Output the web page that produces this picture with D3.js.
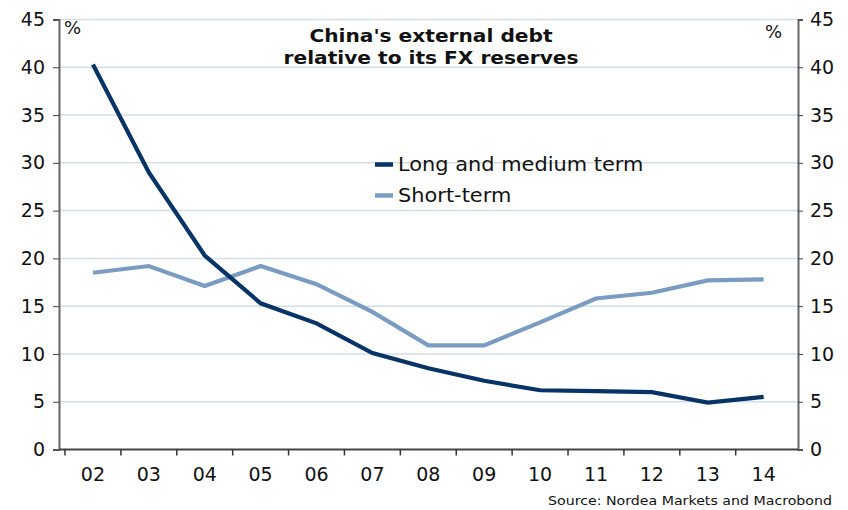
<!DOCTYPE html>
<html>
<head>
<meta charset="utf-8">
<script src="https://cdn.jsdelivr.net/npm/d3@7"></script>
<style>
  html, body { margin: 0; padding: 0; background: #fff; }
  svg { display: block; font-family: "DejaVu Sans", Verdana, sans-serif; }
</style>
</head>
<body>
<svg id="chart" width="848" height="510"></svg>
<script>
// Years (20xx) on the category axis
const years = ["02", "03", "04", "05", "06", "07", "08", "09", "10", "11", "12", "13", "14"];
// External debt as % of FX reserves
const longMedium = [40.3, 29.0, 20.3, 15.3, 13.2, 10.1, 8.5, 7.2, 6.2, 6.1, 6.0, 4.9, 5.5];
const shortTerm  = [18.5, 19.2, 17.1, 19.2, 17.3, 14.4, 10.9, 10.9, 13.3, 15.8, 16.4, 17.7, 17.8];
const yTicks = [0, 5, 10, 15, 20, 25, 30, 35, 40, 45];
const seriesNames = ["Long and medium term", "Short-term"];
const titleLines = ["China's external debt", "relative to its FX reserves"];
const sourceText = "Source: Nordea Markets and Macrobond";

// Styling
const seriesColors = ["#073366", "#7a9cc2"];
const WIDE = 1.1; // horizontal stretch to give the Verdana-like proportions

const svg = d3.select("#chart");
const plotLeft = 59, plotRight = 798, plotTop = 19.5, plotBottom = 449.5;

const x = d3.scaleBand().domain(years).range([65, 791.6]).padding(0);
const y = d3.scaleLinear().domain([0, 45]).range([plotBottom, plotTop]);

// Stretch text horizontally by a factor, keeping glyph height
function widen(sel, k) {
  sel.each(function () {
    const w = this.getComputedTextLength();
    d3.select(this).attr("textLength", w * k).attr("lengthAdjust", "spacingAndGlyphs");
  });
}

// Horizontal gridlines
svg.append("g").selectAll("line")
  .data(yTicks.filter(d => d > 0))
  .join("line")
  .attr("x1", plotLeft).attr("x2", plotRight)
  .attr("y1", d => y(d)).attr("y2", d => y(d))
  .attr("stroke", "#d3dde5").attr("stroke-width", 1.5);

// Left value axis
const leftAxis = svg.append("g")
  .attr("transform", `translate(${plotLeft},0)`)
  .call(d3.axisLeft(y).tickValues(yTicks).tickSize(6).tickPadding(8));
// Right value axis
const rightAxis = svg.append("g")
  .attr("transform", `translate(${plotRight},0)`)
  .call(d3.axisRight(y).tickValues(yTicks).tickSize(5).tickPadding(7));

[leftAxis, rightAxis].forEach(g => {
  g.select(".domain").attr("stroke", "#666").attr("stroke-width", 2);
  g.selectAll(".tick line").attr("stroke", "#444").attr("stroke-width", 1);
  g.selectAll(".tick text")
    .attr("font-size", 19).attr("fill", "#111")
    .attr("font-family", "DejaVu Sans, Verdana, sans-serif");
});

// Category axis: ticks at band boundaries, labels centred in bands
const xAxisG = svg.append("g");
xAxisG.append("line")
  .attr("x1", plotLeft).attr("x2", plotRight)
  .attr("y1", plotBottom).attr("y2", plotBottom)
  .attr("stroke", "#444").attr("stroke-width", 2);
xAxisG.selectAll("line.tk")
  .data(years)
  .join("line").attr("class", "tk")
  .attr("x1", d => x(d)).attr("x2", d => x(d))
  .attr("y1", plotBottom).attr("y2", plotBottom + 6)
  .attr("stroke", "#333").attr("stroke-width", 1.5);
xAxisG.selectAll("text")
  .data(years)
  .join("text")
  .attr("x", d => x(d) + x.bandwidth() / 2)
  .attr("y", 481)
  .attr("text-anchor", "middle")
  .attr("font-size", 19).attr("fill", "#111")
  .text(d => d);

// Series lines
const line = d3.line()
  .x((d, i) => x(years[i]) + x.bandwidth() / 2)
  .y(d => y(d));

[[shortTerm, seriesColors[1]], [longMedium, seriesColors[0]]].forEach(([vals, color]) => {
  svg.append("path")
    .datum(vals)
    .attr("d", line)
    .attr("fill", "none")
    .attr("stroke", color)
    .attr("stroke-width", 4.2)
    .attr("stroke-linejoin", "miter");
});

// Unit labels
svg.append("text").attr("x", 64).attr("y", 34).attr("font-size", 18).attr("fill", "#111").text("%");
svg.append("text").attr("x", 765).attr("y", 38).attr("font-size", 18).attr("fill", "#111").text("%");

// Title
svg.append("text")
  .attr("text-anchor", "middle")
  .attr("font-weight", "bold").attr("font-size", 18).attr("fill", "#111")
  .selectAll("tspan")
  .data(titleLines)
  .join("tspan")
  .attr("x", 431)
  .attr("y", (d, i) => 41.5 + i * 22)
  .text(d => d)
  .call(widen, 1.12);

// Legend
const legend = svg.append("g").selectAll("g")
  .data(seriesNames)
  .join("g")
  .attr("transform", (d, i) => `translate(375,${164.5 + i * 31})`);
legend.append("line")
  .attr("x1", 0).attr("x2", 18)
  .attr("stroke", (d, i) => seriesColors[i]).attr("stroke-width", 4.5);
legend.append("text")
  .attr("x", 23).attr("dy", "0.35em")
  .attr("font-size", 19).attr("fill", "#111")
  .text(d => d)
  .call(widen, WIDE);

// Source note
svg.append("text")
  .attr("x", 832).attr("y", 505)
  .attr("text-anchor", "end")
  .attr("font-size", 13).attr("fill", "#111")
  .text(sourceText)
  .call(widen, 1.09);
</script>
</body>
</html>
